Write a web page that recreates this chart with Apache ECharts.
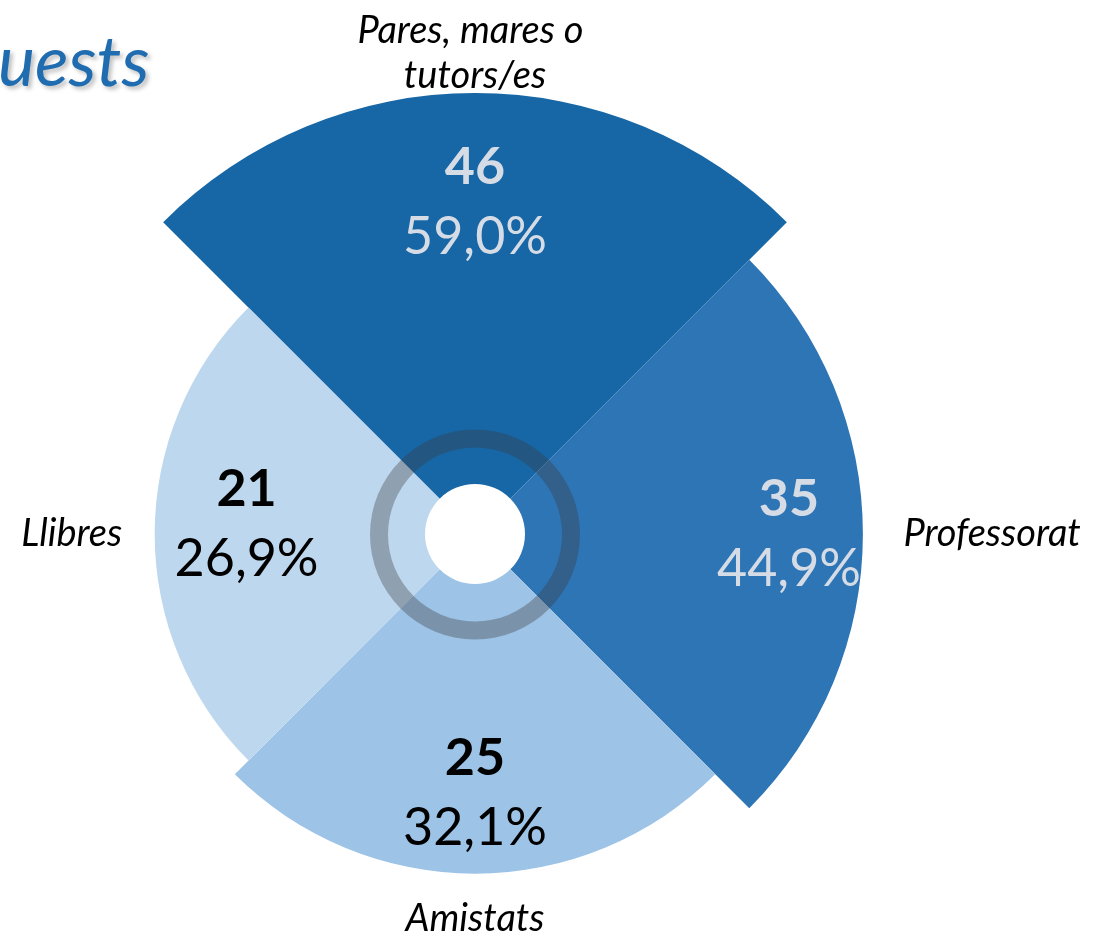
<!DOCTYPE html>
<html>
<head>
<meta charset="utf-8">
<script src="https://cdn.jsdelivr.net/npm/echarts@6/dist/echarts.min.js"></script>
<style>
html, body { margin: 0; padding: 0; background: #ffffff; }
#chart { width: 1097px; height: 934px; }
</style>
</head>
<body>
<div id="chart"></div>
<script>
// dades
const categories = ['Pares, mares o tutors/es', 'Professorat', 'Amistats', 'Llibres'];
const counts = [46, 35, 25, 21];
const percents = [59.0, 44.9, 32.1, 26.9];

// estils
const sectorColors = ['#1767A6', '#2E75B6', '#9DC3E6', '#BDD7EE'];
const valueTextColors = ['#D6DCE5', '#D6DCE5', '#000000', '#000000'];
const valueOffsets = [[0, 22], [13, 0], [0, 6], [5, -10]];
const namePositions = ['top', 'right', 'bottom', 'left'];
const nameDistances = [-6, 40, 22, 32];
const center = [475, 534];
const fontFamily = 'Lato, "Open Sans", sans-serif';

const mychart = echarts.init(document.getElementById('chart'));

const option = {
  animation: false,
  backgroundColor: '#ffffff',
  polar: {
    center: center,
    radius: [50, 441],
  },
  angleAxis: {
    type: 'category',
    data: categories,
    startAngle: 135,
    clockwise: true,
    show: false,
  },
  radiusAxis: {
    type: 'value',
    min: -35,
    max: 46,
    startValue: -35,
    show: false,
  },
  graphic: [
    {
      type: 'ring',
      shape: { cx: center[0], cy: center[1] + 0.5, r: 105, r0: 87 },
      style: { fill: 'rgba(56,56,60,0.35)' },
      z: 100,
      silent: true,
    },
    {
      type: 'text',
      left: -2,
      top: 28,
      style: {
        text: 'uests',
        font: 'italic 70px ' + fontFamily,
        fill: '#1F6CB0',
        textShadowColor: 'rgba(0,0,0,0.25)',
        textShadowBlur: 4,
        textShadowOffsetX: 3,
        textShadowOffsetY: 3,
      },
    },
  ],
  series: [
    {
      type: 'bar',
      coordinateSystem: 'polar',
      barCategoryGap: '0%',
      data: counts.map((v, i) => ({
        value: v,
        itemStyle: { color: sectorColors[i] },
      })),
      silent: true,
    },
    {
      // nombres i percentatges
      type: 'scatter',
      coordinateSystem: 'polar',
      symbolSize: 1,
      itemStyle: { color: 'rgba(0,0,0,0)', opacity: 1 },
      z: 5,
      silent: true,
      data: counts.map((v, i) => ({
        value: [v - 18, i],
        label: { color: valueTextColors[i], offset: valueOffsets[i] },
      })),
      label: {
        show: true,
        position: 'inside',
        formatter: (p) => {
          const i = p.dataIndex;
          return '{n|' + counts[i] + '}\n{p|' + percents[i].toFixed(1).replace('.', ',') + '%}';
        },
        rich: {
          n: { fontFamily: fontFamily, fontSize: 52, fontWeight: 'bold', lineHeight: 70 },
          p: { fontFamily: fontFamily, fontSize: 52, fontWeight: 'normal', lineHeight: 70 },
        },
      },
    },
    {
      // noms de categoria
      type: 'scatter',
      coordinateSystem: 'polar',
      symbolSize: 1,
      itemStyle: { color: 'rgba(0,0,0,0)', opacity: 1 },
      z: 5,
      silent: true,
      data: counts.map((v, i) => ({
        value: [v, i],
        label: i === 0
          ? { position: namePositions[i], distance: nameDistances[i], width: 320, overflow: 'break', align: 'center' }
          : { position: namePositions[i], distance: nameDistances[i] },
      })),
      label: {
        show: true,
        formatter: (p) => categories[p.dataIndex],
        color: '#000000',
        fontFamily: fontFamily,
        fontStyle: 'italic',
        fontSize: 38,
        lineHeight: 45,
      },
    },
  ],
};

mychart.setOption(option);
</script>
</body>
</html>
